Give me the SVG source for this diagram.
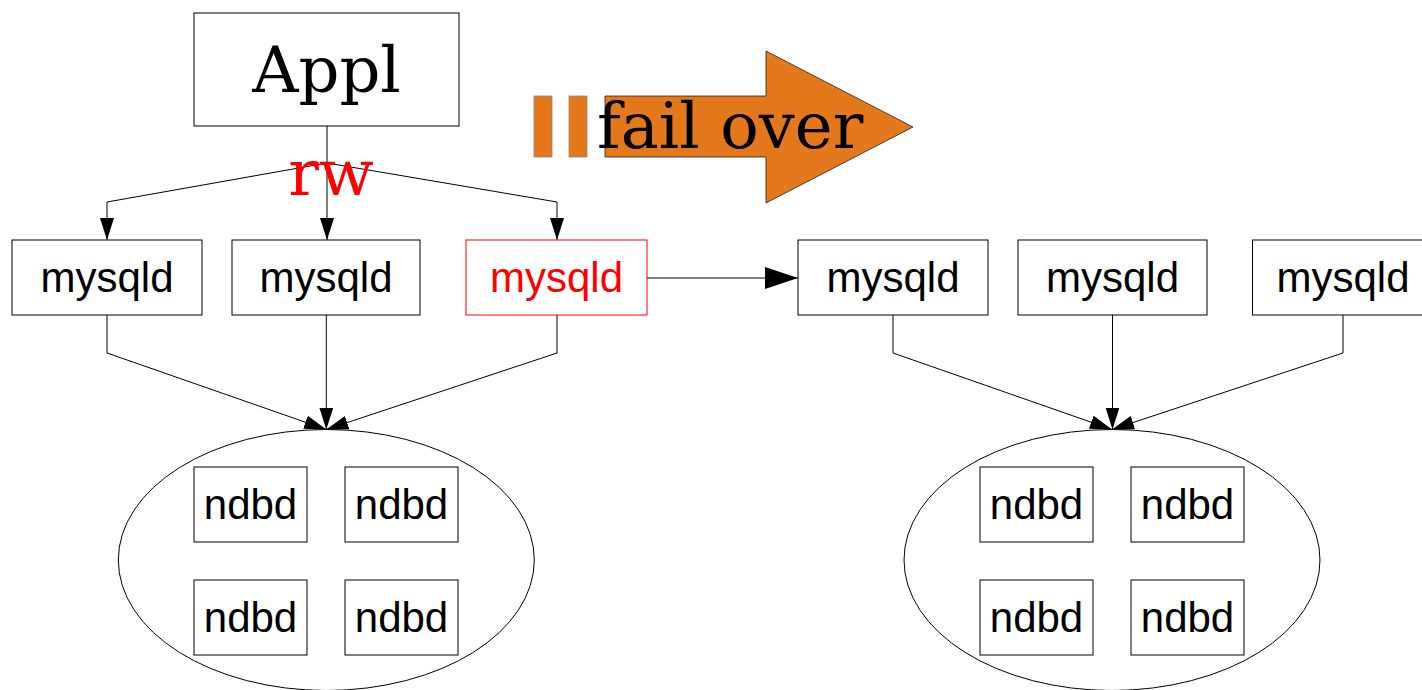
<svg xmlns="http://www.w3.org/2000/svg" width="1422" height="690" viewBox="0 0 1422 690">
<style>
.box{fill:#fff;stroke:#000;stroke-width:1}
.red{fill:#fff;stroke:#ff0000;stroke-width:1}
.sans{font-family:"Liberation Sans",Arial,sans-serif;font-size:42px;text-anchor:middle;fill:#000}
.serif{font-family:"DejaVu Serif",serif;font-size:64px;fill:#000}
.edge{fill:none;stroke:#000;stroke-width:1}
.ell{fill:#fff;stroke:#000;stroke-width:1}
</style>
<defs>
<marker id="ah" markerUnits="userSpaceOnUse" markerWidth="24" markerHeight="16" refX="22" refY="7" orient="auto">
<path d="M0,0 L22,7 L0,14 z" fill="#000"/>
</marker>
<marker id="ahBig" markerUnits="userSpaceOnUse" markerWidth="36" markerHeight="24" refX="33" refY="11" orient="auto">
<path d="M0,0 L33,11 L0,22 z" fill="#000"/>
</marker>
</defs>
<rect width="1422" height="690" fill="#fff"/>

<g id="ellipse-left"><ellipse class="ell" cx="326.3" cy="560" rx="208" ry="130.5"/></g>
<g id="ellipse-right"><ellipse class="ell" cx="1112" cy="560" rx="208" ry="130.5"/></g>

<g id="connectors">
<path class="edge" d="M327,126 L327,240" marker-end="url(#ah)"/>
<path class="edge" d="M327,163 L107,202 L107,240" marker-end="url(#ah)"/>
<path class="edge" d="M327,163 L557,202 L557,240" marker-end="url(#ah)"/>
<path class="edge" d="M107,315 L107,353 L326.3,429.5" marker-end="url(#ah)"/>
<path class="edge" d="M326.3,315 L326.3,429.5" marker-end="url(#ah)"/>
<path class="edge" d="M557,315 L557,353 L326.3,429.5" marker-end="url(#ah)"/>
<path class="edge" d="M647,278 L798,278" marker-end="url(#ahBig)"/>
<path class="edge" d="M893,315 L893,353 L1112,429.5" marker-end="url(#ah)"/>
<path class="edge" d="M1112.5,315 L1112.5,429.5" marker-end="url(#ah)"/>
<path class="edge" d="M1343,315 L1343,353 L1112,429.5" marker-end="url(#ah)"/>
</g>

<g id="appl"><rect class="box" x="194" y="13" width="265" height="113"/><text class="serif" x="326.5" y="92" text-anchor="middle">Appl</text></g>
<g id="rw-label"><text class="serif" x="331" y="195" text-anchor="middle" fill="#ff0000" style="fill:#ff0000">rw</text></g>

<g id="failover">
<rect x="534" y="96" width="18" height="61" fill="#e4781a" stroke="#888" stroke-width="0.8"/>
<rect x="569" y="96" width="18" height="61" fill="#e4781a" stroke="#888" stroke-width="0.8"/>
<path d="M605,96 L766,96 L766,51 L913,127 L766,203 L766,157 L605,157 z" fill="#e4781a" stroke="#222" stroke-width="0.8"/>
<text class="serif" x="597" y="148">fail over</text>
</g>

<g id="mysqld-1"><rect class="box" x="12" y="240" width="190" height="75"/><text class="sans" x="107" y="292">mysqld</text></g>
<g id="mysqld-2"><rect class="box" x="232" y="240" width="188" height="75"/><text class="sans" x="326" y="292">mysqld</text></g>
<g id="mysqld-3"><rect class="red" x="466" y="240" width="181" height="75"/><text class="sans" x="556.5" y="292" style="fill:#ff0000">mysqld</text></g>
<g id="mysqld-4"><rect class="box" x="798" y="240" width="190" height="75"/><text class="sans" x="893" y="292">mysqld</text></g>
<g id="mysqld-5"><rect class="box" x="1018" y="240" width="189" height="75"/><text class="sans" x="1112.5" y="292">mysqld</text></g>
<g id="mysqld-6"><rect class="box" x="1252.5" y="240" width="181" height="75"/><text class="sans" x="1343" y="292">mysqld</text></g>

<g id="ndbd-l1"><rect class="box" x="194" y="467" width="113" height="75"/><text class="sans" x="250.5" y="519">ndbd</text></g>
<g id="ndbd-l2"><rect class="box" x="345" y="467" width="113" height="75"/><text class="sans" x="401.5" y="519">ndbd</text></g>
<g id="ndbd-l3"><rect class="box" x="194" y="580" width="113" height="75"/><text class="sans" x="250.5" y="632">ndbd</text></g>
<g id="ndbd-l4"><rect class="box" x="345" y="580" width="113" height="75"/><text class="sans" x="401.5" y="632">ndbd</text></g>
<g id="ndbd-r1"><rect class="box" x="980" y="467" width="113" height="75"/><text class="sans" x="1036.5" y="519">ndbd</text></g>
<g id="ndbd-r2"><rect class="box" x="1131" y="467" width="113" height="75"/><text class="sans" x="1187.5" y="519">ndbd</text></g>
<g id="ndbd-r3"><rect class="box" x="980" y="580" width="113" height="75"/><text class="sans" x="1036.5" y="632">ndbd</text></g>
<g id="ndbd-r4"><rect class="box" x="1131" y="580" width="113" height="75"/><text class="sans" x="1187.5" y="632">ndbd</text></g>
</svg>
